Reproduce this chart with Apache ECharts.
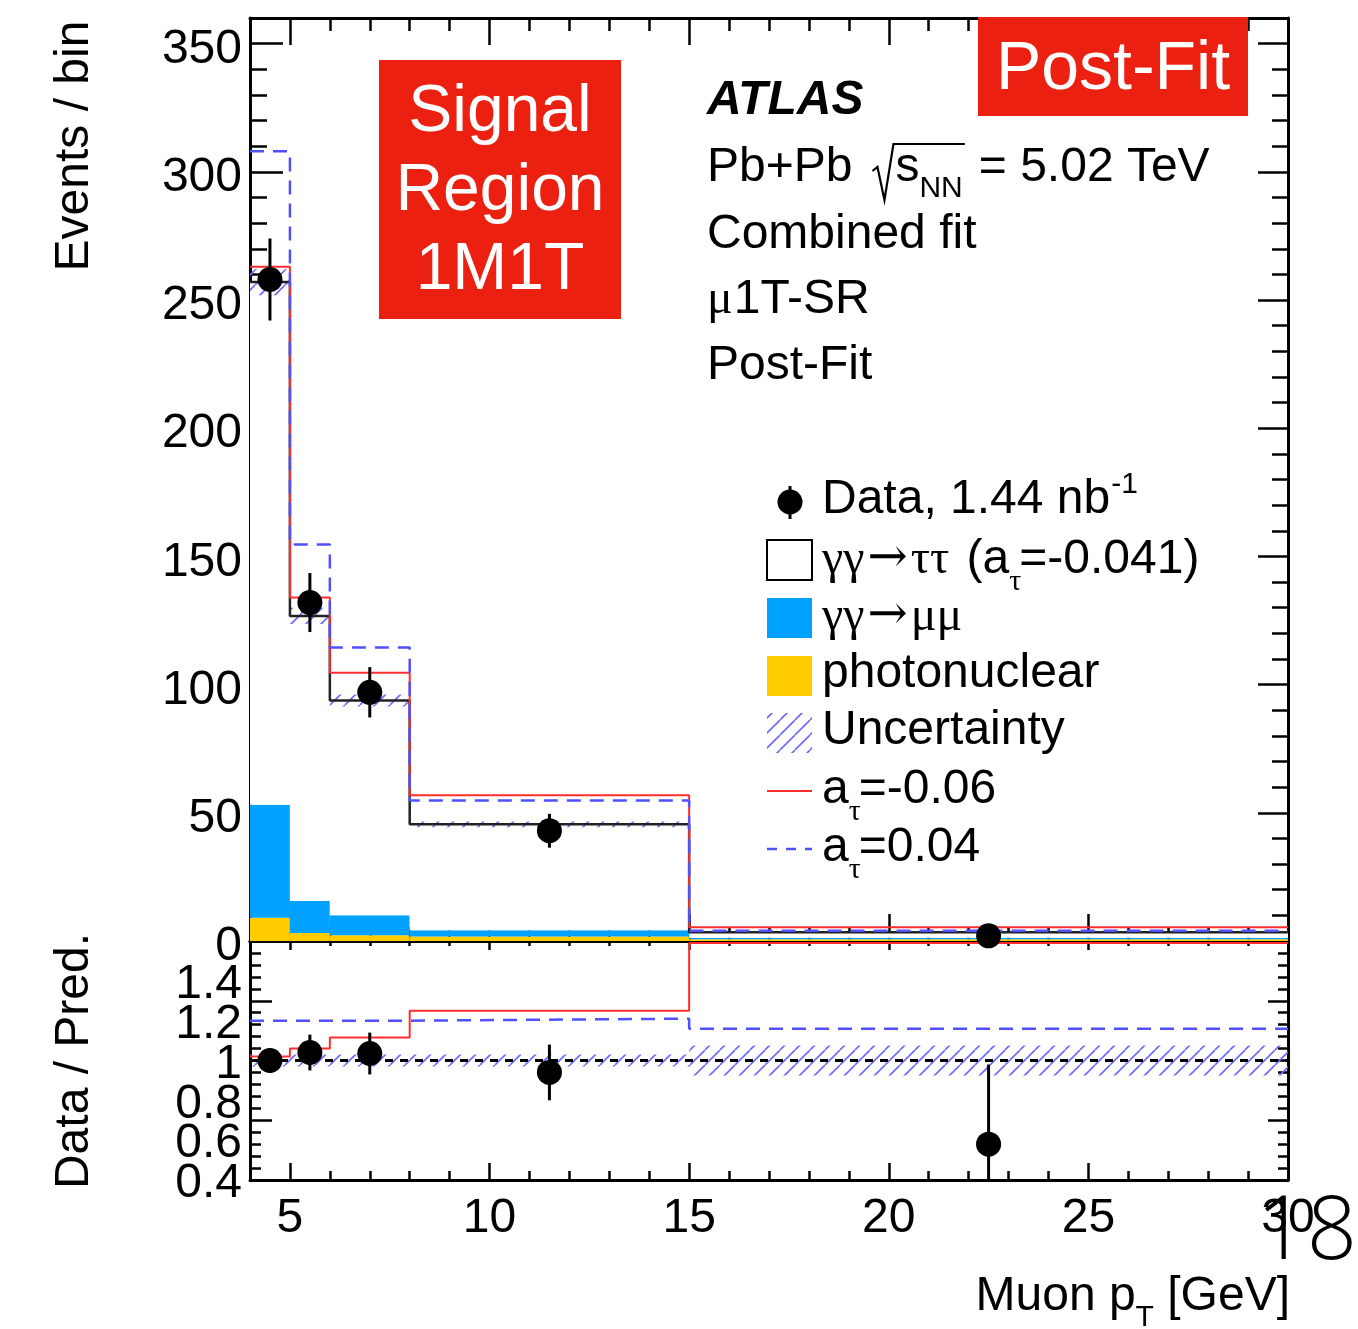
<!DOCTYPE html>
<html>
<head>
<meta charset="utf-8">
<script src="https://cdn.jsdelivr.net/npm/echarts@6/dist/echarts.min.js"></script>
<style>
  html, body { margin: 0; padding: 0; background: #fff; }
  #chart { width: 1358px; height: 1329px; }
</style>
</head>
<body>
<div id="chart"></div>
<script>
// ---------------- values per muon-pT bin ----------------
const binEdges      = [4, 5, 6, 8, 15, 30];
const binCentres    = [4.5, 5.5, 7, 11.5, 22.5];

// stacked prediction components (events / bin)
const photonuclear   = [9.1, 3.1, 2.2, 1.8, 0.7];
const gamgamToMuMu   = [44.0, 12.5, 7.8, 2.4, 0.6];
const gamgamToTauTau = [203.9, 111.2, 83.8, 41.3, 2.1];
const predRelUnc     = [0.02, 0.025, 0.025, 0.025, 0.07];

// observed events
const dataEvents = [258, 132, 97, 43, 2];
const dataErr    = [16, 11.5, 9.8, 6.6, 1.4];

// alternative a_tau hypotheses (events / bin)
const predATauM006 = [263, 134, 104.6, 56.8, 5.4];
const predATauP004 = [308, 154.6, 114.5, 54.8, 4.0];

// ratio panel: data / prediction
const ratioData     = [1.0, 1.04, 1.035, 0.94, 0.58];
const ratioDataErr  = [0.06, 0.09, 0.105, 0.14, 0.4];
const ratioATauM006 = [1.02, 1.06, 1.115, 1.25, 1.59];
const ratioATauP004 = [1.2, 1.2, 1.2, 1.21, 1.16];
const ratioUnc      = [0.03, 0.03, 0.03, 0.03, 0.075];

// ---------------- tick positions and labels ----------------
const xMajorTicks = [5, 10, 15, 20, 25];
const xMinorTicks = [5, 6, 7, 8, 9, 11, 12, 13, 14, 16, 17, 18, 19, 21, 22, 23, 24, 26, 27, 28, 29];
const xTickLabels = [5, 10, 15, 20, 25, 30];
const yMajorTicks = [50, 100, 150, 200, 250, 300, 350];
const yMinorTicks = [10, 20, 30, 40, 60, 70, 80, 90, 110, 120, 130, 140, 160, 170, 180, 190,
                     210, 220, 230, 240, 260, 270, 280, 290, 310, 320, 330, 340];
const yTickLabels = [0, 50, 100, 150, 200, 250, 300, 350];
const rMajorTicks = [0.7, 1.3];
const rMinorTicks = [0.46, 0.52, 0.58, 0.64, 0.76, 0.82, 0.88, 0.94, 1.0, 1.06, 1.12, 1.18, 1.24,
                     1.36, 1.42, 1.48, 1.54];
// ratio labels are tightly packed, so they are split over two overlaid axes
const rTickLabelsA = [0.4, 0.8, 1.2];
const rTickLabelsB = [0.6, 1, 1.4];

// ---------------- styling ----------------
const SANS  = '"Liberation Sans", Arial, Helvetica, sans-serif';
const SERIF = '"Liberation Serif", "DejaVu Serif", "Times New Roman", serif';
const ARROWF = '"DejaVu Serif", "Liberation Serif", serif';
const C_MUMU = '#00a1ff';
const C_PHOTO = '#ffcc00';
const C_RED = '#ff2e2e';
const C_BLUE = '#5050ff';
const C_BOX = '#ec2010';

function makeHatch() {
  const s = 15;
  const c = document.createElement('canvas');
  c.width = s; c.height = s;
  const g = c.getContext('2d');
  g.strokeStyle = '#6a6aff';
  g.lineWidth = 1.6;
  g.beginPath();
  [-s, 0, s].forEach(o => { g.moveTo(o, s); g.lineTo(o + s, 0); });
  g.stroke();
  return c;
}
const hatchFill = { image: makeHatch(), repeat: 'repeat' };

// ---------------- derived stacks ----------------
const nBins = binCentres.length;
const stackPhoto = photonuclear.slice();
const stackMuMu = photonuclear.map((v, i) => v + gamgamToMuMu[i]);
const stackTotal = stackMuMu.map((v, i) => v + gamgamToTauTau[i]);

const binRows = (lo, hi) => binCentres.map((_, i) => [binEdges[i], binEdges[i + 1], lo[i], hi[i]]);
const stepPoints = vals => vals.map((v, i) => [binEdges[i], v]).concat([[binEdges[nBins], vals[nBins - 1]]]);
const errRows = (vals, errs) => binCentres.map((x, i) => [x, vals[i] - errs[i], vals[i] + errs[i]]);

function rectItem(fill) {
  return function (params, api) {
    const p0 = api.coord([api.value(0), api.value(3)]);
    const p1 = api.coord([api.value(1), api.value(2)]);
    return {
      type: 'rect',
      shape: { x: p0[0], y: p0[1], width: p1[0] - p0[0], height: p1[1] - p0[1] },
      style: { fill: fill, lineWidth: 0 }
    };
  };
}
function errItem(params, api) {
  const a = api.coord([api.value(0), api.value(1)]);
  const b = api.coord([api.value(0), api.value(2)]);
  return { type: 'line', shape: { x1: a[0], y1: a[1], x2: b[0], y2: b[1] },
           style: { stroke: '#000', lineWidth: 3 } };
}

// ---------------- axes ----------------
function axis(grid, pos, range, o) {
  const lab = o.labels ? {
    show: true, customValues: o.labels, margin: o.margin,
    showMinLabel: true, showMaxLabel: true, hideOverlap: false,
    formatter: '{v|{value}}',
    rich: { v: { fontFamily: SANS, fontSize: 48, color: '#000', padding: [o.pad || 0, 0, 0, 0] } }
  } : { show: false };
  return {
    type: 'value', gridIndex: grid, position: pos, min: range[0], max: range[1],
    axisLine: { show: !!o.line, onZero: false, lineStyle: { color: '#000', width: 3 } },
    axisTick: { show: true, inside: true, length: o.len, customValues: o.ticks,
                lineStyle: { color: '#000', width: 2.5 } },
    axisLabel: lab,
    splitLine: { show: false }, minorTick: { show: false }, minorSplitLine: { show: false }
  };
}
const X = [4, 30], Y = [0, 360], R = [0.4, 1.6];
const xAxes = [
  axis(0, 'bottom', X, { line: true, len: 27, ticks: xMajorTicks }),
  axis(0, 'bottom', X, { len: 14, ticks: xMinorTicks }),
  axis(0, 'top', X, { line: true, len: 27, ticks: xMajorTicks }),
  axis(0, 'top', X, { len: 13, ticks: xMinorTicks }),
  axis(1, 'bottom', X, { line: true, len: 17, ticks: xMajorTicks, labels: xTickLabels, margin: 15 }),
  axis(1, 'bottom', X, { len: 9, ticks: xMinorTicks }),
  axis(1, 'top', X, { line: true, len: 9, ticks: xMajorTicks }),
  axis(1, 'top', X, { len: 5, ticks: xMinorTicks })
];
const yAxes = [
  axis(0, 'left', Y, { line: true, len: 33, ticks: yMajorTicks, labels: yTickLabels, margin: 8, pad: 12 }),
  axis(0, 'left', Y, { len: 17, ticks: yMinorTicks }),
  axis(0, 'right', Y, { line: true, len: 30, ticks: yMajorTicks }),
  axis(0, 'right', Y, { len: 16, ticks: yMinorTicks }),
  axis(1, 'left', R, { line: true, len: 22, ticks: rMajorTicks, labels: rTickLabelsA, margin: 8, pad: 8 }),
  axis(1, 'left', R, { len: 11, ticks: rMinorTicks, labels: rTickLabelsB, margin: 8, pad: 8 }),
  axis(1, 'right', R, { line: true, len: 20, ticks: rMajorTicks }),
  axis(1, 'right', R, { len: 10, ticks: rMinorTicks })
];

// ---------------- series ----------------
const upperAx = { xAxisIndex: 0, yAxisIndex: 0 };
const ratioAx = { xAxisIndex: 4, yAxisIndex: 4 };
function custom(ax, name, data, render, z) {
  return Object.assign({ type: 'custom', name: name, data: data, renderItem: render, silent: true,
                         z: z, clip: true, encode: { x: [0], y: [1] } }, ax);
}
function step(ax, name, vals, color, width, dash, z) {
  return Object.assign({ type: 'line', name: name, data: stepPoints(vals), step: 'end', symbol: 'none',
                         silent: true, z: z, lineStyle: { color: color, width: width, type: dash || 'solid' } }, ax);
}
function points(ax, name, xs, ys, z) {
  return Object.assign({ type: 'scatter', name: name, data: xs.map((x, i) => [x, ys[i]]), symbol: 'circle',
                         symbolSize: 25, silent: true, z: z, itemStyle: { color: '#000', opacity: 1 } }, ax);
}

const series = [
  // upper panel: stacked prediction
  custom(upperAx, 'photonuclear', binRows(stackPhoto.map(() => 0), stackPhoto), rectItem(C_PHOTO), 2),
  custom(upperAx, 'γγ→μμ', binRows(stackPhoto, stackMuMu), rectItem(C_MUMU), 2),
  custom(upperAx, 'γγ→ττ', binRows(stackMuMu, stackTotal), rectItem('#fff'), 2),
  custom(upperAx, 'Uncertainty', binRows(stackTotal.map((v, i) => v * (1 - predRelUnc[i])),
                                         stackTotal.map((v, i) => v * (1 + predRelUnc[i]))), rectItem(hatchFill), 3),
  step(upperAx, 'total', stackTotal, '#222', 2.5, null, 4),
  step(upperAx, 'a_tau=-0.06', predATauM006, C_RED, 2, null, 5),
  step(upperAx, 'a_tau=0.04', predATauP004, C_BLUE, 2.5, [14, 9], 5),
  custom(upperAx, 'data errors', errRows(dataEvents, dataErr), errItem, 6),
  points(upperAx, 'Data', binCentres, dataEvents, 7),

  // lower panel: ratio
  custom(ratioAx, 'ratio uncertainty', binRows(ratioUnc.map(u => 1 - u), ratioUnc.map(u => 1 + u)), rectItem(hatchFill), 3),
  step(ratioAx, 'ratio a_tau=-0.06', ratioATauM006, C_RED, 2, null, 5),
  step(ratioAx, 'ratio a_tau=0.04', ratioATauP004, C_BLUE, 2.5, [14, 9], 5),
  custom(ratioAx, 'ratio data errors', errRows(ratioData, ratioDataErr), errItem, 6),
  Object.assign(points(ratioAx, 'ratio data', binCentres, ratioData, 7), {
    markLine: { silent: true, symbol: ['none', 'none'], label: { show: false },
                lineStyle: { color: '#000', width: 3, type: [8, 7] }, data: [{ yAxis: 1 }], z: 4 }
  })
];

// ---------------- text helpers ----------------
const mctx = document.createElement('canvas').getContext('2d');
function partFont(p) {
  return (p.style || 'normal') + ' ' + (p.weight || 'normal') + ' ' + (p.size || 48) + 'px ' + (p.family || SANS);
}
function widthOf(p) { mctx.font = partFont(p); return mctx.measureText(p.t).width; }
function textEl(x, y, t, o) {
  o = o || {};
  return {
    type: 'text', x: x, y: y, z: 100, rotation: o.rotation || 0,
    style: { text: t, fill: o.fill || '#000', fontSize: o.size || 48, fontFamily: o.family || SANS,
             fontWeight: o.weight || 'normal', fontStyle: o.style || 'normal',
             align: o.align || 'left', verticalAlign: 'middle' }
  };
}
// lay out a run of text pieces (with sub/superscripts) from left to right
function run(x, y, parts, alignRight) {
  const ws = parts.map(widthOf);
  let total = 0;
  parts.forEach((p, i) => { total += ws[i] + (p.gap || 0); });
  let cx = alignRight ? x - total : x;
  const els = [];
  parts.forEach((p, i) => {
    els.push(textEl(cx, y + (p.dy || 0), p.t, p));
    cx += ws[i] + (p.gap || 0);
  });
  return els;
}

const graphics = [];
// red region boxes
graphics.push({ type: 'rect', z: 100, shape: { x: 379, y: 60, width: 242, height: 259 }, style: { fill: C_BOX } });
['Signal', 'Region', '1M1T'].forEach((t, i) =>
  graphics.push(textEl(500, 113 + 79 * i, t, { size: 66, fill: '#fff', align: 'center' })));
graphics.push({ type: 'rect', z: 100, shape: { x: 978, y: 17, width: 270, height: 99 }, style: { fill: C_BOX } });
graphics.push(textEl(1113, 70, 'Post-Fit', { size: 68, fill: '#fff', align: 'center' }));

// experiment label block
graphics.push(textEl(707, 101, 'ATLAS', { weight: 'bold', style: 'italic' }));
(function () {
  const w = widthOf({ t: 'Pb+Pb' });
  graphics.push(textEl(707, 168, 'Pb+Pb'));
  const rx = 707 + w + 20;
  const sW = widthOf({ t: 's' });
  const nnW = widthOf({ t: 'NN', size: 30 });
  const end = rx + 23 + sW + nnW + 2;
  graphics.push({ type: 'polyline', z: 100, shape: { points: [[rx, 171], [rx + 5, 167], [rx + 12, 200], [rx + 21, 144], [end, 144]] },
                  style: { stroke: '#000', lineWidth: 2.2, fill: null } });
  graphics.push(textEl(rx + 23, 168, 's'));
  graphics.push(textEl(rx + 23 + sW, 189, 'NN', { size: 30 }));
  graphics.push(textEl(end + 14, 168, '= 5.02 TeV'));
})();
graphics.push(textEl(707, 235, 'Combined fit'));
graphics.push(...run(707, 300, [{ t: 'μ', family: SERIF, gap: 1 }, { t: '1T-SR' }]));
graphics.push(textEl(707, 366, 'Post-Fit'));

// legend
const LX = 822;
graphics.push({ type: 'line', z: 100, shape: { x1: 790, y1: 486, x2: 790, y2: 519 }, style: { stroke: '#000', lineWidth: 3 } });
graphics.push({ type: 'circle', z: 100, shape: { cx: 790, cy: 502, r: 12.5 }, style: { fill: '#000' } });
graphics.push(...run(LX, 500, [{ t: 'Data, 1.44 nb', gap: 1 }, { t: '-1', size: 30, dy: -15 }]));

graphics.push({ type: 'rect', z: 100, shape: { x: 767, y: 540, width: 45, height: 40 }, style: { fill: '#fff', stroke: '#000', lineWidth: 2 } });
graphics.push(...run(LX, 560, [
  { t: 'γγ', family: SERIF, gap: 3 }, { t: '→', family: ARROWF, gap: 3 }, { t: 'ττ', family: SERIF, gap: 4 },
  { t: ' (a', gap: 0 }, { t: 'τ', family: SERIF, size: 30, dy: 22, gap: -2 }, { t: '=-0.041)' }
]));
graphics.push({ type: 'rect', z: 100, shape: { x: 767, y: 598, width: 45, height: 40 }, style: { fill: C_MUMU } });
graphics.push(...run(LX, 617, [
  { t: 'γγ', family: SERIF, gap: 3 }, { t: '→', family: ARROWF, gap: 3 }, { t: 'μμ', family: SERIF }
]));
graphics.push({ type: 'rect', z: 100, shape: { x: 767, y: 656, width: 45, height: 40 }, style: { fill: C_PHOTO } });
graphics.push(textEl(LX, 674, 'photonuclear'));
graphics.push({ type: 'rect', z: 100, shape: { x: 767, y: 713, width: 45, height: 40 }, style: { fill: hatchFill } });
graphics.push(textEl(LX, 731, 'Uncertainty'));
graphics.push({ type: 'line', z: 100, shape: { x1: 767, y1: 791, x2: 812, y2: 791 }, style: { stroke: C_RED, lineWidth: 2 } });
graphics.push(...run(LX, 790, [{ t: 'a', gap: 0 }, { t: 'τ', family: SERIF, size: 30, dy: 22, gap: -2 }, { t: '=-0.06' }]));
graphics.push({ type: 'line', z: 100, shape: { x1: 767, y1: 849, x2: 812, y2: 849 }, style: { stroke: C_BLUE, lineWidth: 2.5, lineDash: [10, 9] } });
graphics.push(...run(LX, 848, [{ t: 'a', gap: 0 }, { t: 'τ', family: SERIF, size: 30, dy: 22, gap: -2 }, { t: '=0.04' }]));

// axis titles
graphics.push(textEl(75, 146, 'Events / bin', { rotation: Math.PI / 2, align: 'center' }));
graphics.push(textEl(75, 1061, 'Data / Pred.', { rotation: Math.PI / 2, align: 'center' }));
graphics.push(...run(1290, 1297, [{ t: 'Muon p', gap: 0 }, { t: 'T', size: 30, dy: 21, gap: 0 }, { t: ' [GeV]' }], true));

// page number
graphics.push(textEl(1357, 1234, '18', { size: 88, weight: 300, family: '"Open Sans", Lato, Roboto, sans-serif', align: 'right' }));

// ---------------- chart ----------------
const chart = echarts.init(document.getElementById('chart'), null, { renderer: 'canvas', width: 1358, height: 1329 });
chart.setOption({
  animation: false,
  backgroundColor: '#fff',
  grid: [
    { left: 250, right: 70, top: 18, height: 923 },
    { left: 250, right: 70, top: 941, height: 239 }
  ],
  xAxis: xAxes,
  yAxis: yAxes,
  series: series,
  graphic: { elements: graphics }
});
</script>
</body>
</html>
